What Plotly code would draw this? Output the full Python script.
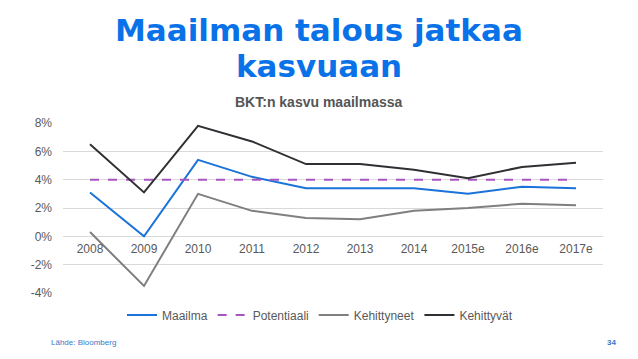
import plotly.graph_objects as go

years = ["2008", "2009", "2010", "2011", "2012", "2013", "2014", "2015e", "2016e", "2017e"]
maailma = [3.1, 0.0, 5.4, 4.2, 3.4, 3.4, 3.4, 3.0, 3.5, 3.4]
potentiaali = [4.0, 4.0, 4.0, 4.0, 4.0, 4.0, 4.0, 4.0, 4.0, 4.0]
kehittyneet = [0.3, -3.5, 3.0, 1.8, 1.3, 1.2, 1.8, 2.0, 2.3, 2.2]
kehittyvat = [6.5, 3.1, 7.8, 6.7, 5.1, 5.1, 4.7, 4.1, 4.9, 5.2]
y_ticks = [-4, -2, 0, 2, 4, 6, 8]
y_tick_labels = ["-4%", "-2%", "0%", "2%", "4%", "6%", "8%"]

fig = go.Figure()
fig.add_trace(go.Scatter(x=years, y=maailma, name="Maailma", mode="lines",
                         line=dict(color="#1a73d9", width=2)))
fig.add_trace(go.Scatter(x=years, y=potentiaali, name="Potentiaali", mode="lines",
                         line=dict(color="#a855c0", width=2, dash="dash")))
fig.add_trace(go.Scatter(x=years, y=kehittyneet, name="Kehittyneet", mode="lines",
                         line=dict(color="#7f7f7f", width=2)))
fig.add_trace(go.Scatter(x=years, y=kehittyvat, name="Kehittyvät", mode="lines",
                         line=dict(color="#2e3033", width=2)))

ymin, ymax = -4, 8
TITLE_FONT = "DejaVu Sans, Liberation Sans, Arial, sans-serif"


def px_x(px):
    return (px - 63) / 540


def px_y(py):
    return (293 - py) / 170


fig.update_layout(
    width=638, height=359,
    margin=dict(l=63, r=35, t=123, b=66, autoexpand=False),
    paper_bgcolor="white", plot_bgcolor="white",
    font=dict(family="Liberation Sans, Arial, sans-serif", color="#595959", size=12),
    showlegend=True,
    legend=dict(orientation="h", x=px_x(320), xanchor="center", y=px_y(315), yanchor="middle",
                font=dict(size=12, color="#595959"), itemwidth=30,
                bgcolor="rgba(0,0,0,0)"),
    xaxis=dict(type="category", range=[-0.5, 9.5], showgrid=False, showline=False,
               zeroline=False, anchor="free", position=(0 - ymin) / (ymax - ymin),
               ticks="", ticklabelstandoff=4, tickfont=dict(size=12, color="#595959")),
    yaxis=dict(range=[ymin, ymax], tickvals=y_ticks, ticktext=y_tick_labels,
               showgrid=True, gridcolor="#d9d9d9", gridwidth=1, zeroline=False,
               showline=False, ticks="", ticklabelstandoff=10,
               tickfont=dict(size=12, color="#595959")),
    annotations=[
        dict(text="<b>Maailman talous jatkaa</b>", xref="paper", yref="paper",
             x=px_x(318.5), y=px_y(30), xanchor="center", yanchor="middle",
             showarrow=False, font=dict(size=31, color="#0a72e8", family=TITLE_FONT)),
        dict(text="<b>kasvuaan</b>", xref="paper", yref="paper",
             x=px_x(318.5), y=px_y(65.5), xanchor="center", yanchor="middle",
             showarrow=False, font=dict(size=31, color="#0a72e8", family=TITLE_FONT)),
        dict(text="<b>BKT:n kasvu maailmassa</b>", xref="paper", yref="paper",
             x=px_x(319), y=px_y(102), xanchor="center", yanchor="middle",
             showarrow=False, font=dict(size=14, color="#555555")),
        dict(text="Lähde: Bloomberg", xref="paper", yref="paper",
             x=px_x(49), y=px_y(342), xanchor="left", yanchor="middle",
             showarrow=False, font=dict(size=8, color="#3a78c8")),
        dict(text="<b>34</b>", xref="paper", yref="paper",
             x=px_x(618), y=px_y(342), xanchor="right", yanchor="middle",
             showarrow=False, font=dict(size=8, color="#3a78c8")),
    ],
)

fig.write_html("out.html", config={"displayModeBar": False},
               post_script="document.body.style.margin='0';")
